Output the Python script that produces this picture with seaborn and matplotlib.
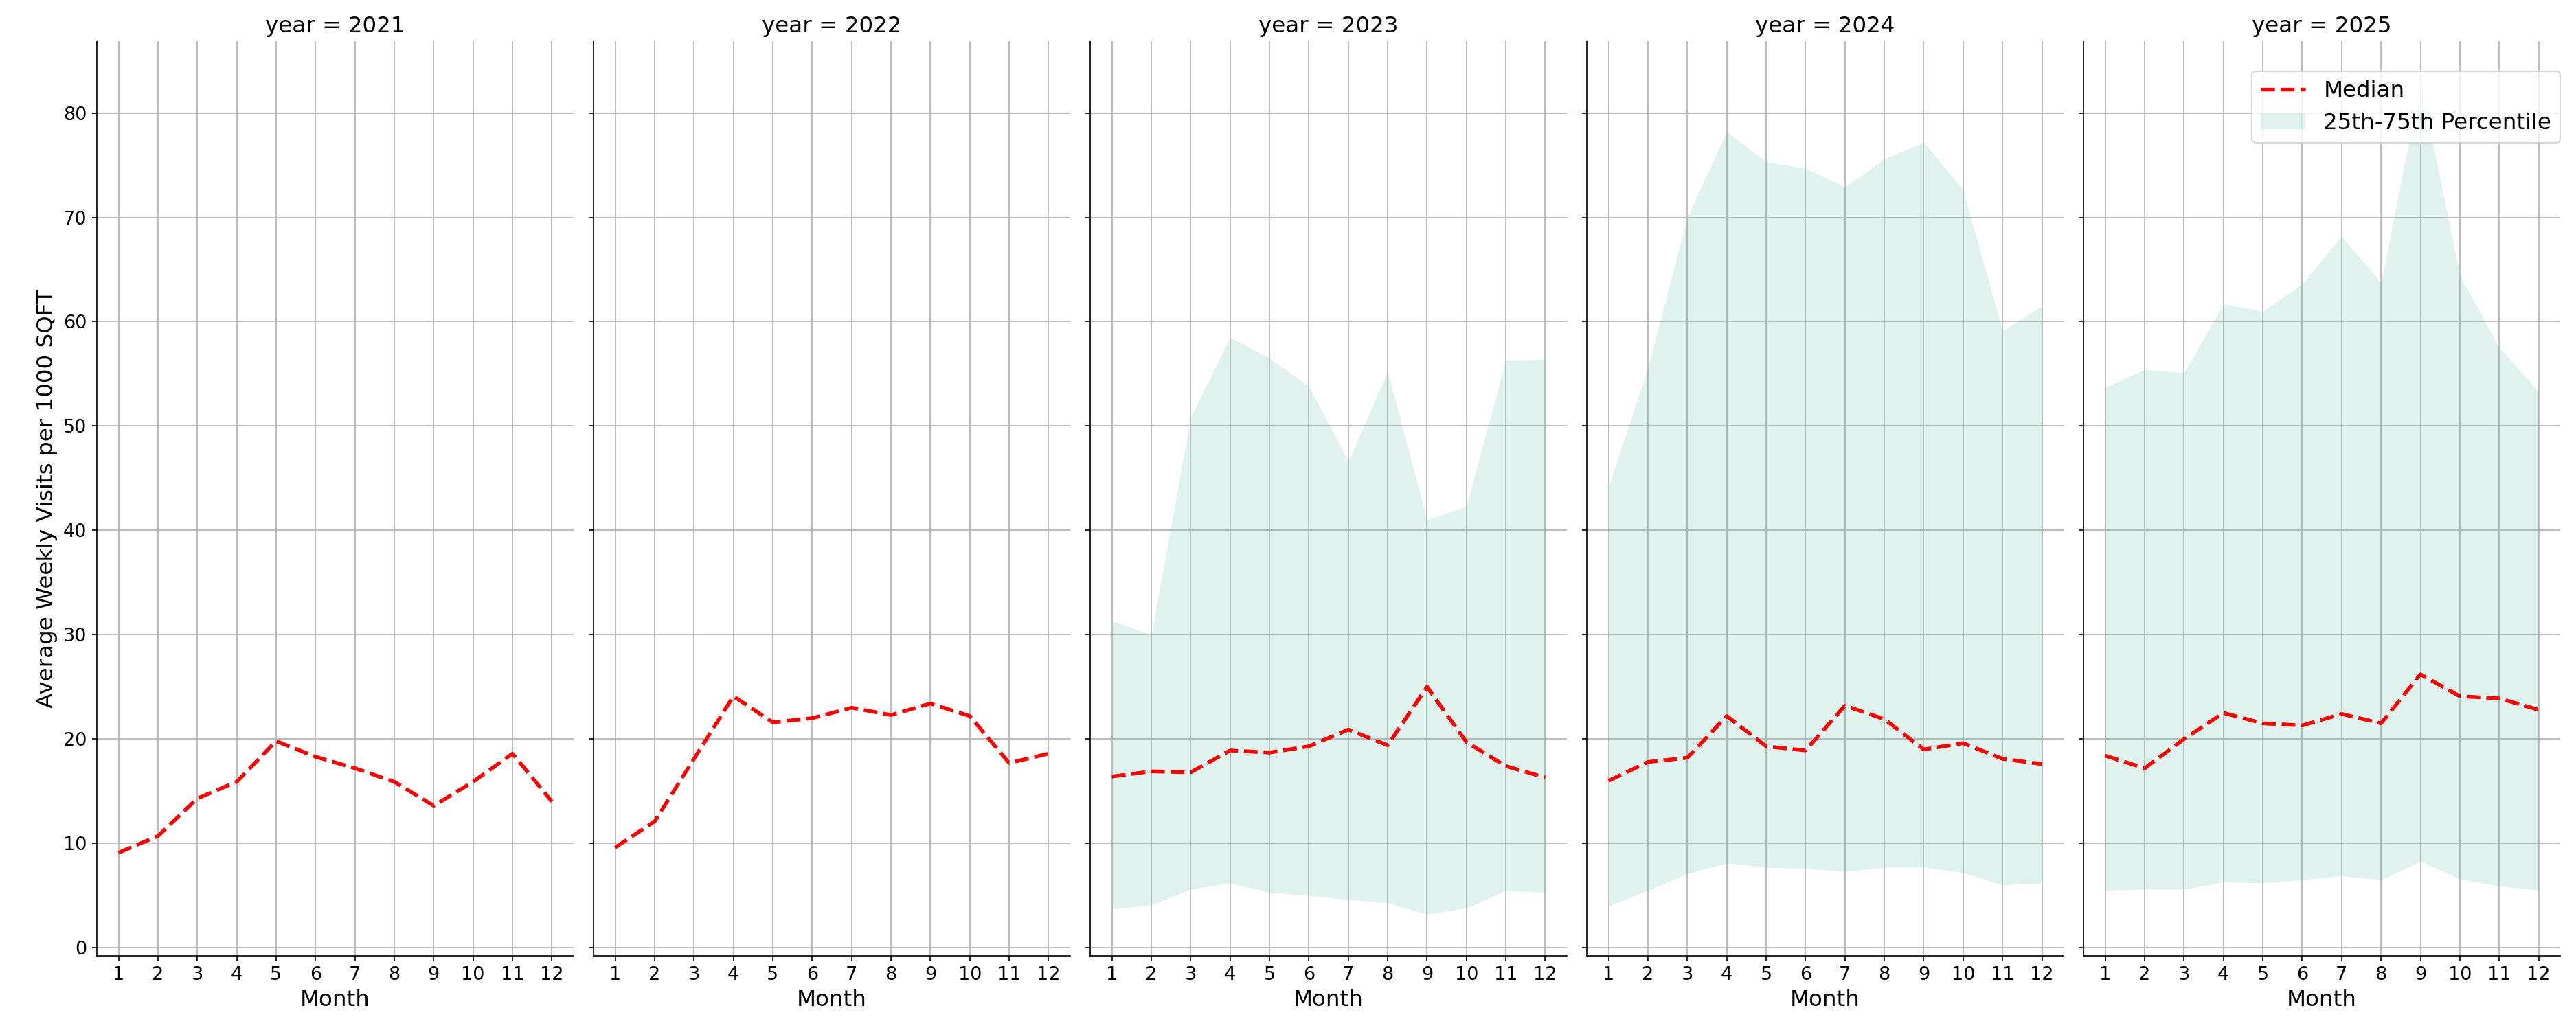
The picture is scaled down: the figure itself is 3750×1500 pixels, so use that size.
import numpy as np
import pandas as pd
import matplotlib
matplotlib.use("Agg")
import matplotlib.pyplot as plt
import seaborn as sns

years = [2021, 2022, 2023, 2024, 2025]
months = list(range(1, 13))

median_2021 = [9.1, 10.7, 14.3, 15.9, 19.8, 18.3, 17.2, 15.9, 13.6, 15.9, 18.6, 14.0]
median_2022 = [9.6, 12.1, 18.1, 24.1, 21.6, 22.0, 23.0, 22.3, 23.4, 22.2, 17.7, 18.6]
median_2023 = [16.4, 16.9, 16.8, 18.9, 18.7, 19.3, 20.9, 19.4, 25.0, 19.7, 17.4, 16.3]
median_2024 = [16.0, 17.8, 18.2, 22.2, 19.3, 18.9, 23.2, 21.9, 19.0, 19.6, 18.1, 17.6]
median_2025 = [18.4, 17.2, 20.0, 22.5, 21.5, 21.3, 22.4, 21.5, 26.2, 24.1, 23.9, 22.8]

p25_2023 = [3.7, 4.1, 5.6, 6.2, 5.3, 5.0, 4.6, 4.3, 3.2, 3.8, 5.5, 5.3]
p75_2023 = [31.3, 30.0, 50.8, 58.5, 56.5, 53.8, 46.6, 55.2, 41.0, 42.3, 56.3, 56.4]
p25_2024 = [4.0, 5.5, 7.1, 8.1, 7.7, 7.6, 7.3, 7.7, 7.7, 7.2, 6.0, 6.2]
p75_2024 = [44.2, 55.6, 70.0, 78.2, 75.3, 74.7, 72.9, 75.6, 77.2, 72.6, 59.1, 61.5]
p25_2025 = [5.5, 5.6, 5.6, 6.3, 6.2, 6.5, 6.9, 6.5, 8.3, 6.6, 5.9, 5.5]
p75_2025 = [53.7, 55.4, 55.1, 61.7, 61.0, 63.6, 68.2, 63.7, 82.9, 64.4, 57.5, 53.3]

nan12 = [np.nan] * 12
medians = {2021: median_2021, 2022: median_2022, 2023: median_2023,
           2024: median_2024, 2025: median_2025}
p25s = {2021: nan12, 2022: nan12, 2023: p25_2023, 2024: p25_2024, 2025: p25_2025}
p75s = {2021: nan12, 2022: nan12, 2023: p75_2023, 2024: p75_2024, 2025: p75_2025}

rows = []
for y in years:
    for i, m in enumerate(months):
        rows.append({"year": y, "month": m, "median": medians[y][i],
                     "p25": p25s[y][i], "p75": p75s[y][i]})
df = pd.DataFrame(rows)

plt.rcParams.update({
    "font.size": 13,
    "xtick.labelsize": 13,
    "ytick.labelsize": 13,
    "axes.titlesize": 15.6,
    "axes.labelsize": 15.6,
    "legend.fontsize": 15.6,
})

fill_color = sns.color_palette("Set2")[0]

g = sns.FacetGrid(df, col="year", height=10, aspect=0.5, sharey=True, sharex=True)

def draw(data, **kwargs):
    ax = plt.gca()
    ax.grid(True)
    if data["p25"].notna().any():
        ax.fill_between(data["month"], data["p25"], data["p75"],
                        color=fill_color, alpha=0.2, linewidth=0, zorder=2,
                        label="25th-75th Percentile")
    sns.lineplot(data=data, x="month", y="median", ax=ax, color="red",
                 linestyle="--", linewidth=2.6, label="Median", legend=False, zorder=3)

g.map_dataframe(draw)
g.set_titles("year = {col_name}")
g.set_axis_labels("Month", "Average Weekly Visits per 1000 SQFT")
for ax in g.axes.flat:
    ax.set_xticks(months)
    ax.set_xticklabels([str(m) for m in months])

last = g.axes.flat[-1]
h, l = last.get_legend_handles_labels()
order = [l.index("Median"), l.index("25th-75th Percentile")]
last.legend([h[i] for i in order], [l[i] for i in order], loc="upper right",
            bbox_to_anchor=(1.0, 0.967), borderaxespad=0)

g.figure.set_size_inches(25, 10)
g.figure.subplots_adjust(left=0.0376, right=0.9939, bottom=0.072, top=0.96, wspace=0.042)
g.figure.savefig("out.png", dpi=150)
